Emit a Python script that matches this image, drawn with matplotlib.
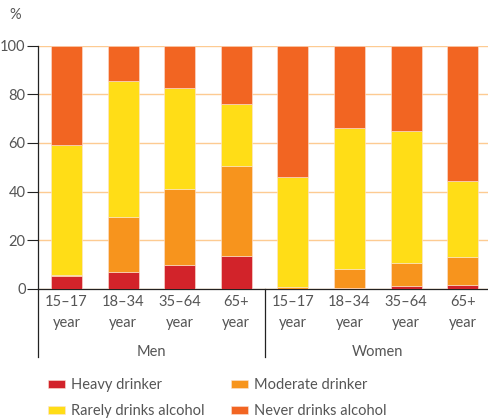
import matplotlib
matplotlib.use("Agg")
import matplotlib.pyplot as plt
import numpy as np

plt.rcParams['font.family'] = ['Lato', 'DejaVu Sans']

ages = ["15–17\nyear", "18–34\nyear", "35–64\nyear", "65+\nyear"] * 2
groups = ["Men", "Women"]
series = ["Heavy drinker", "Moderate drinker", "Rarely drinks alcohol", "Never drinks alcohol"]
heavy = [5.3, 7.0, 10.0, 13.7, 0.0, 0.4, 1.2, 1.6]
moderate = [0.5, 22.6, 31.0, 36.8, 0.8, 7.8, 9.5, 11.5]
rarely = [53.2, 55.9, 41.7, 25.7, 45.2, 58.1, 54.2, 31.1]
never = [41.0, 14.5, 17.3, 23.8, 54.0, 33.7, 35.1, 55.8]
colors = ["#D2232A", "#F7941D", "#FFDD17", "#F26522"]

txt = "#555555"
fig = plt.figure(figsize=(4.89, 4.20), dpi=100)
ax = fig.add_axes([38 / 489, 131 / 420, 451 / 489, 243.4 / 420])

x = np.arange(len(ages))
bottom = np.zeros(len(ages))
bars = []
for name, vals, c in zip(series, [heavy, moderate, rarely, never], colors):
    b = ax.bar(x, vals, 0.55, bottom=bottom, color=c, label=name,
               edgecolor="#FBE3D6", linewidth=0.4, zorder=3)
    bars.append(b)
    bottom += np.array(vals)

ax.set_xlim(-0.504, 7.465)
ax.set_ylim(0, 100)
ax.set_yticks([0, 20, 40, 60, 80, 100])
ax.yaxis.grid(True, color="#FDCB92", linewidth=1, zorder=0)
ax.set_xticks(x)
ax.set_xticklabels(ages, fontsize=10.5, color=txt, linespacing=1.65)
ax.tick_params(axis="x", length=0, pad=4)
ax.tick_params(axis="y", length=8, width=0.8, colors="#222222", labelcolor=txt,
               labelsize=10.5, pad=1)
for s in ["top", "right"]:
    ax.spines[s].set_visible(False)
ax.spines["left"].set_color("#222222")
ax.spines["bottom"].set_color("#222222")
ax.spines["left"].set_linewidth(0.9)
ax.spines["bottom"].set_linewidth(0.9)

tr = ax.get_xaxis_transform()
for xs in [-0.504, 3.5]:
    ax.plot([xs, xs], [0, -0.28], transform=tr, color="#222222", linewidth=0.9, clip_on=False)
for g, xc in zip(groups, [1.5, 5.5]):
    ax.text(xc, -0.26, g, transform=tr, ha="center", va="center", fontsize=10.5, color=txt)

fig.text(15 / 489, 1 - 15 / 420, "%", fontsize=10.5, color=txt, ha="center", va="center")

order = [0, 2, 1, 3]
fig.legend([bars[i] for i in order], [series[i] for i in order],
           loc="upper left", bbox_to_anchor=(42 / 489, 1 - 372 / 420), ncol=2,
           frameon=False, fontsize=10.5, labelcolor=txt, handlelength=1.2, handleheight=0.5,
           handletextpad=0.4, columnspacing=1.8, labelspacing=0.85, borderaxespad=0)

fig.savefig("out.png", dpi=100)
